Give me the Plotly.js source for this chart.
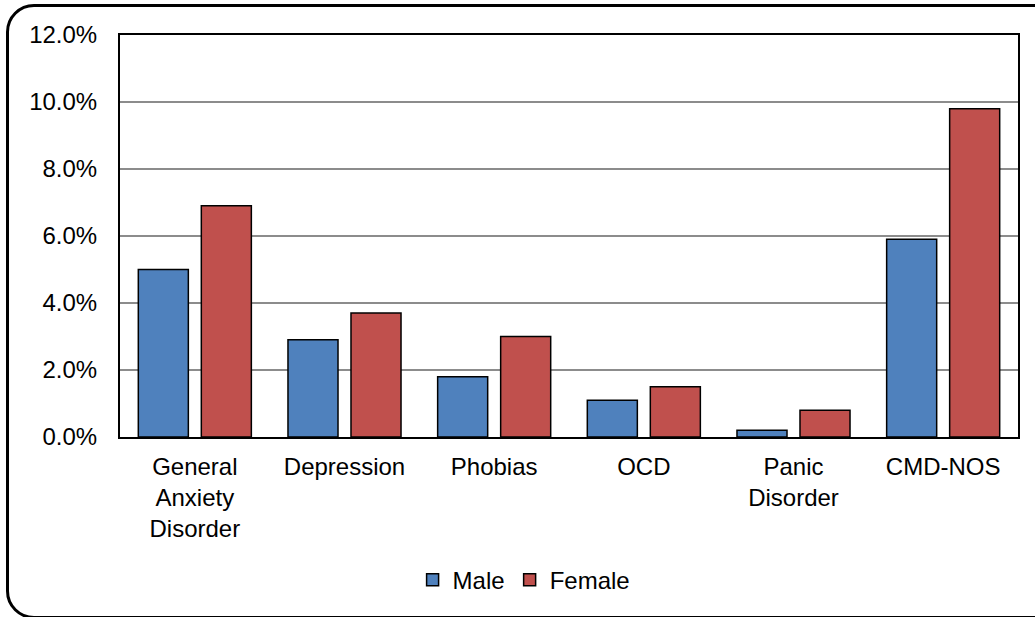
<!DOCTYPE html>
<html>
<head>
<meta charset="utf-8">
<script src="https://cdn.plot.ly/plotly-3.0.1.min.js"></script>
<style>
  html, body { margin: 0; padding: 0; background: #fff; overflow: hidden; }
  #wrap { position: relative; width: 1035px; height: 617px; overflow: hidden; }
  #frame { position: absolute; left: 6px; top: 4px; width: 1050px; height: 609px;
           border: 3px solid #000; border-radius: 28px; pointer-events: none; z-index: 2; }
  #chart { position: absolute; left: 0; top: 0; width: 1035px; height: 617px; }
</style>
</head>
<body>
<div id="wrap">
  <div id="chart"></div>
  <div id="frame"></div>
</div>
<script>
const categories = ["General<br>Anxiety<br>Disorder", "Depression", "Phobias", "OCD", "Panic<br>Disorder", "CMD-NOS"];
const maleValues = [0.050, 0.029, 0.018, 0.011, 0.002, 0.059];
const femaleValues = [0.069, 0.037, 0.030, 0.015, 0.008, 0.098];
const seriesNames = ["Male", "Female"];
const seriesColors = ["#4F81BD", "#C0504D"];

const font = { family: "Liberation Sans, Arial, sans-serif", size: 24, color: "#000" };

const traces = [maleValues, femaleValues].map((vals, i) => ({
  type: "bar",
  name: seriesNames[i],
  x: categories,
  y: vals,
  marker: { color: seriesColors[i], line: { color: "#000", width: 1.5 } },
  hoverinfo: "skip"
}));

const layout = {
  width: 1035,
  height: 617,
  margin: { l: 120, r: 17, t: 35, b: 180 },
  paper_bgcolor: "#fff",
  plot_bgcolor: "#fff",
  font: font,
  barmode: "group",
  bargap: 0.158,
  bargroupgap: 0.206,
  showlegend: true,
  legend: {
    orientation: "h",
    x: 0.45, xanchor: "center",
    y: -0.356, yanchor: "middle",
    font: font,
    itemwidth: 30,
    tracegroupgap: 0
  },
  xaxis: {
    type: "category",
    showline: true, linecolor: "#000", linewidth: 2, mirror: true,
    ticks: "", tickfont: font,
    ticklabelstandoff: 7,
    showgrid: false
  },
  yaxis: {
    range: [0, 0.12],
    dtick: 0.02,
    tickformat: ".1%",
    showline: true, linecolor: "#000", linewidth: 2, mirror: true,
    showgrid: true, gridcolor: "#8c8c8c", gridwidth: 1.5,
    zeroline: false,
    ticks: "",
    ticklabelstandoff: 16,
    tickfont: font
  }
};

Plotly.newPlot("chart", traces, layout, { staticPlot: true, displayModeBar: false });
</script>
</body>
</html>
